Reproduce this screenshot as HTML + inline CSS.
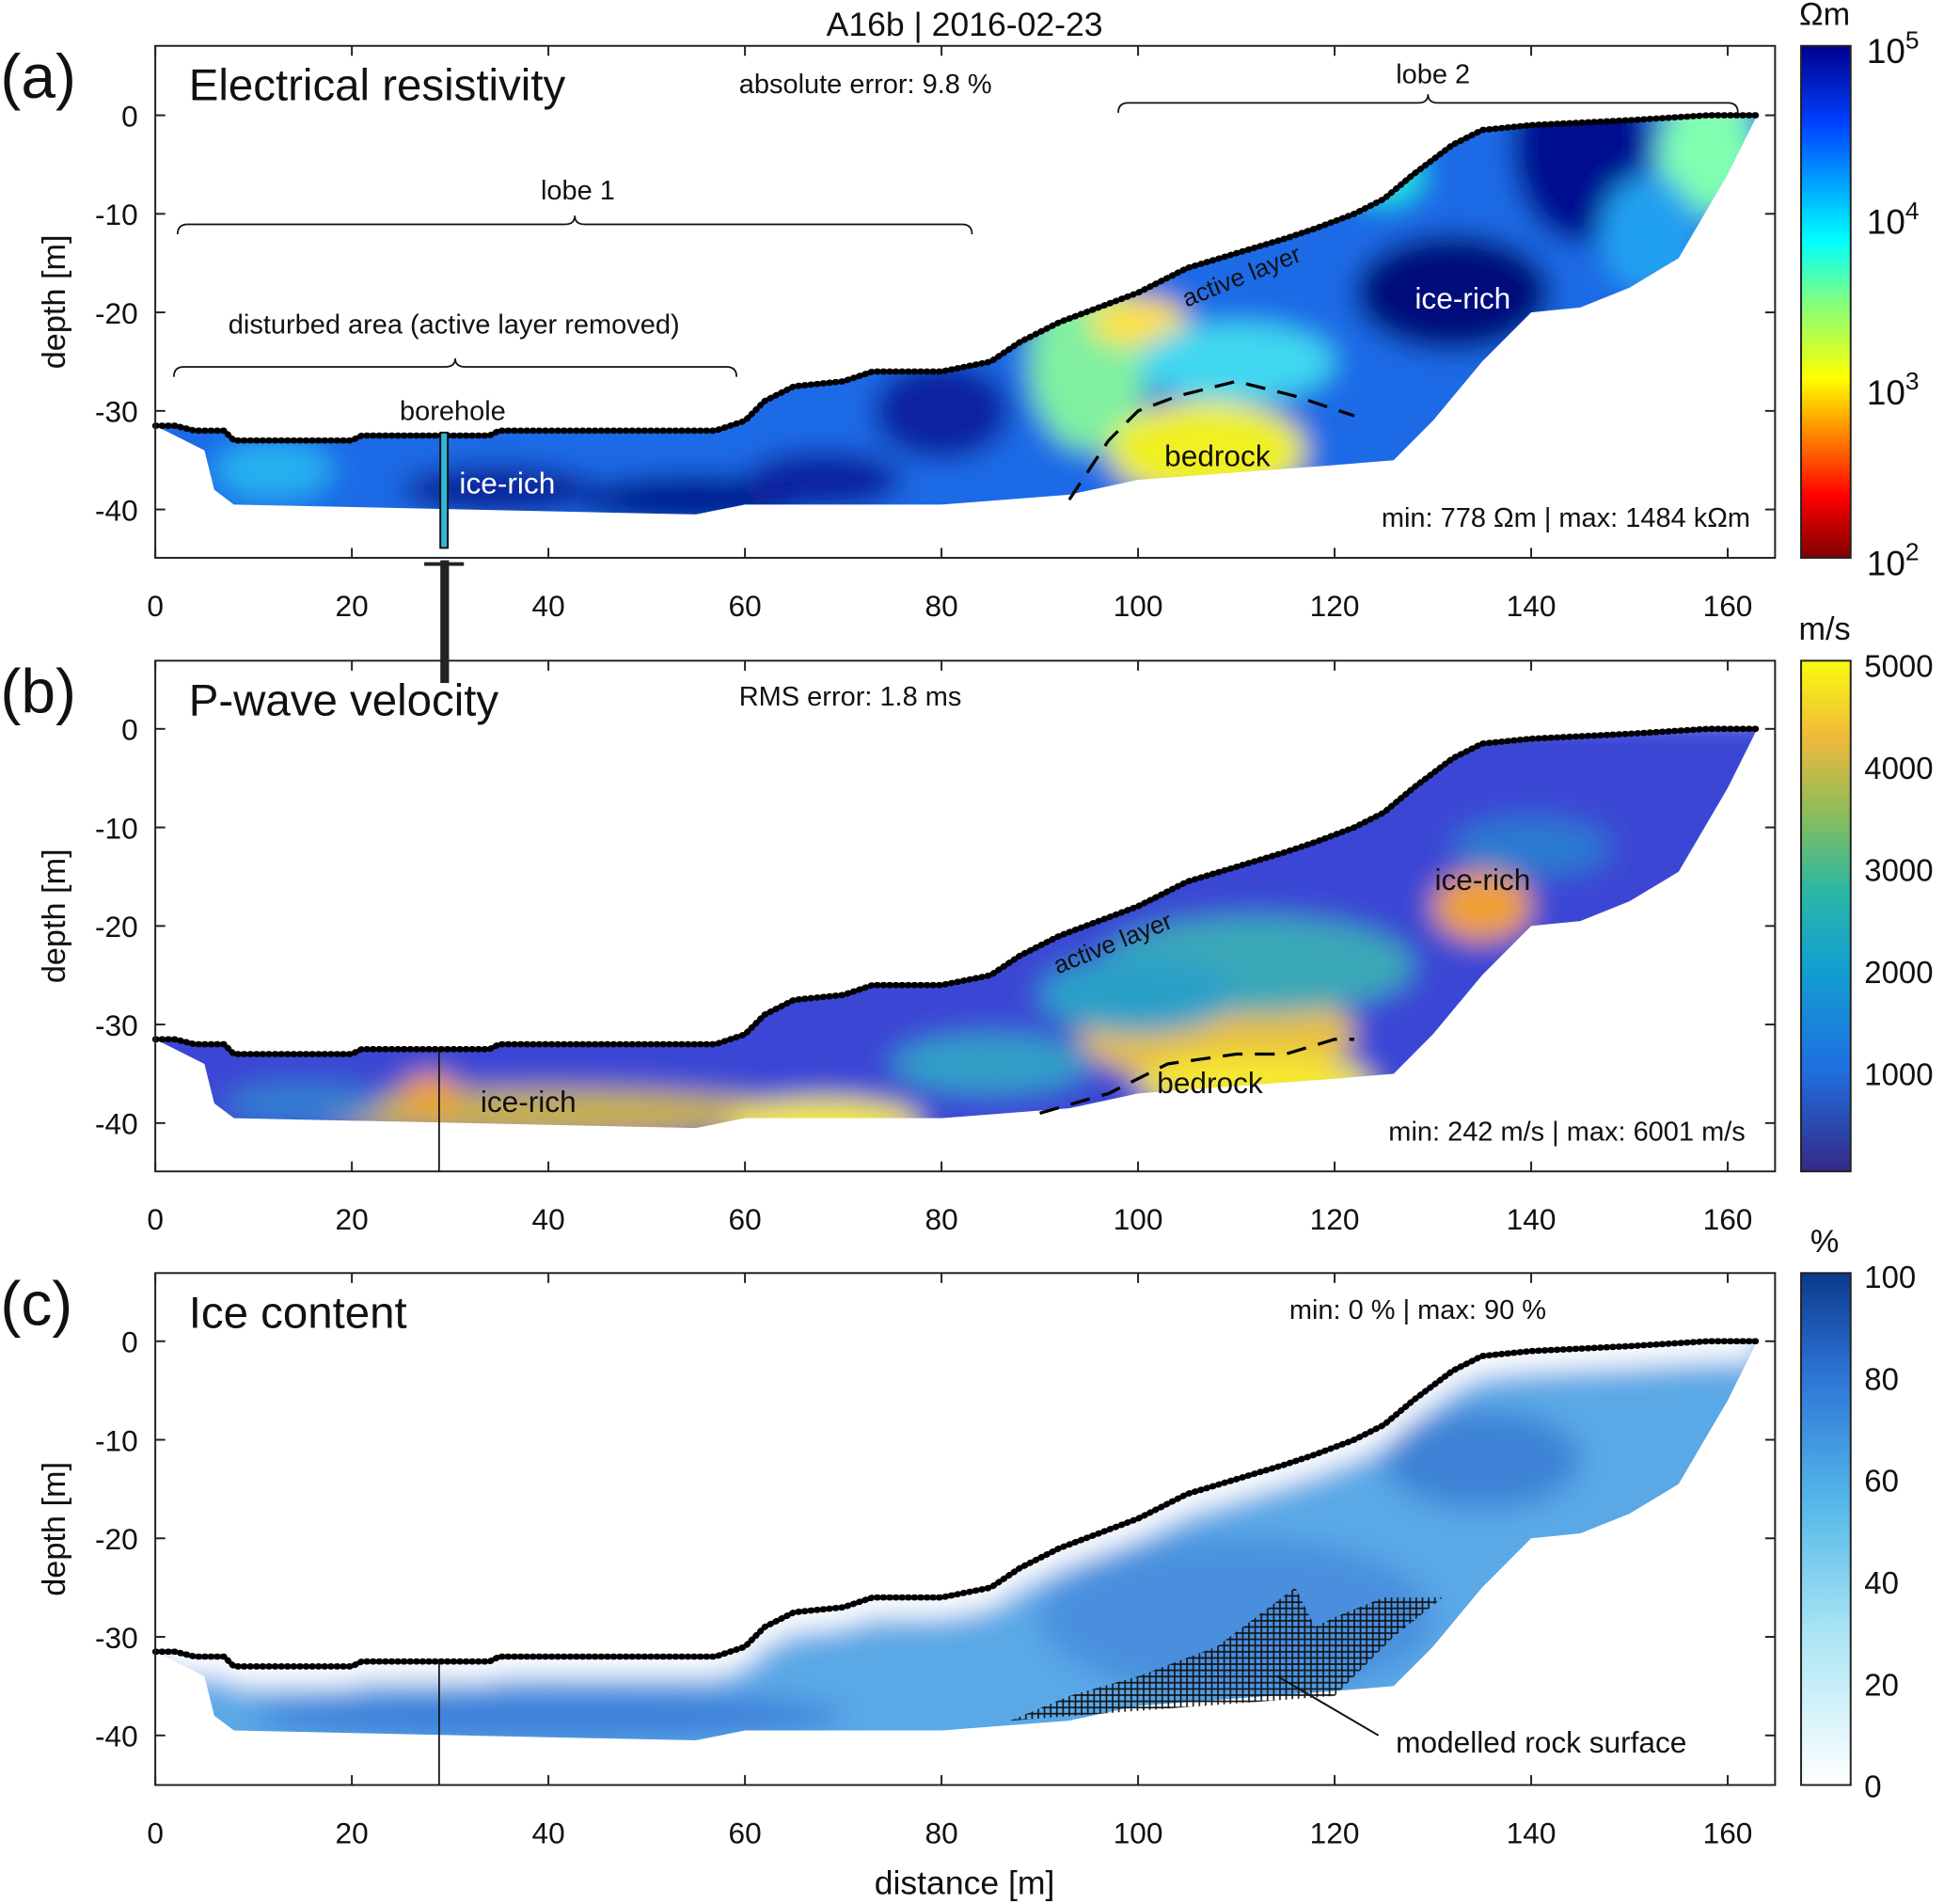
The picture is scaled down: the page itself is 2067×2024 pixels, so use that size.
<!DOCTYPE html>
<html><head><meta charset="utf-8">
<style>
html,body{margin:0;padding:0;background:#fff;}
svg{display:block;font-family:"Liberation Sans","DejaVu Sans",sans-serif;}
text{fill:#111;}
</style></head>
<body>
<svg id="fig" width="2067" height="2024" viewBox="0 0 1568 1536" xmlns="http://www.w3.org/2000/svg">
<defs>
<linearGradient id="jet" x1="0" y1="1" x2="0" y2="0">
<stop offset="0" stop-color="#800000"/><stop offset="0.12" stop-color="#ff0000"/><stop offset="0.35" stop-color="#ffff00"/><stop offset="0.5" stop-color="#80ff80"/><stop offset="0.62" stop-color="#00ffff"/><stop offset="0.85" stop-color="#0040ff"/><stop offset="1" stop-color="#00008f"/>
</linearGradient>
<linearGradient id="parula" x1="0" y1="1" x2="0" y2="0">
<stop offset="0" stop-color="#352a87"/><stop offset="0.2" stop-color="#1f6fe0"/><stop offset="0.4" stop-color="#13a0d0"/><stop offset="0.55" stop-color="#2cb7a5"/><stop offset="0.7" stop-color="#8bbd5a"/><stop offset="0.85" stop-color="#f0b93c"/><stop offset="1" stop-color="#f9fb0e"/>
</linearGradient>
<linearGradient id="blues" x1="0" y1="1" x2="0" y2="0">
<stop offset="0" stop-color="#ffffff"/><stop offset="0.3" stop-color="#a9e4f5"/><stop offset="0.55" stop-color="#55b8e8"/><stop offset="0.8" stop-color="#2d74d6"/><stop offset="1" stop-color="#0b3a8c"/>
</linearGradient>
<filter id="blur" x="-50%" y="-50%" width="200%" height="200%"><feGaussianBlur stdDeviation="11"/></filter>
<pattern id="hatch" width="5" height="5" patternUnits="userSpaceOnUse"><path d="M0 2.5H5M2.5 0V5" stroke="#111" stroke-width="1.2"/></pattern>
</defs>
<g id="root"></g>
</svg>
<script>
// ---- data ----
const surfaceDist = [0,2,4,7,8,20,21,34,35,57,60,62,65,70,73,80,85,88,92,96,100,105,110,115,118,122,125,128,132,135,140,150,158,163];
const surfaceElev = [-31.5,-31.5,-32,-32,-33,-33,-32.5,-32.5,-32,-32,-31,-29,-27.5,-27,-26,-26,-25,-23,-21,-19.5,-18,-15.5,-14,-12.5,-11.5,-10,-8.5,-6,-3,-1.5,-1,-0.5,0,0];
const bottomDist = [163,160,155,150,145,140,135,130,126,120,100,93,80,60,55,8,6,5];
const bottomElev = [0,-6,-14.5,-17.5,-19.5,-20,-25,-31,-35,-35.5,-37,-38.5,-39.5,-39.5,-40.5,-39.5,-38,-34];
const xTicks = [0,20,40,60,80,100,120,140,160];
const yTicks = [0,-10,-20,-30,-40];
const bedrockA_d = [93,97,100,104,110,116,122];
const bedrockA_z = [-39,-33,-30,-28.5,-27,-28.5,-30.5];
const bedrockB_d = [90,97,103,110,115,120,122];
const bedrockB_z = [-39,-37,-34,-33,-33,-31.5,-31.5];
const rockD = [87,93,100,108,116,118,120,125,131,126,120,100];
const rockZ = [-38.5,-36,-34,-31,-25,-29,-28,-26,-26,-30,-36,-37.5];
const cbA_labels = ["10^5","10^4","10^3","10^2"];
const cbB_labels = ["5000","4000","3000","2000","1000"];
const cbC_labels = ["100","80","60","40","20","0"];

const NS="http://www.w3.org/2000/svg";
const root=document.getElementById('root');
function el(tag,attrs,parent){const e=document.createElementNS(NS,tag);for(const k in attrs)e.setAttribute(k,attrs[k]);(parent||root).appendChild(e);return e;}
const X0=125,XS=7.93,ZS=7.95;
const X=d=>X0+d*XS;
function txt(s,x,y,size,anchor,parent,name){const t=el('text',{x:x,y:y,'font-size':size,'text-anchor':anchor||'start'},parent);t.textContent=s;return t;}

const panels=[
 {id:'a',top:37,bot:450,y0:93,title:'Electrical resistivity',grad:'jet'},
 {id:'b',top:533,bot:945,y0:588,title:'P-wave velocity',grad:'parula'},
 {id:'c',top:1027,bot:1440,y0:1082,title:'Ice content',grad:'blues'}
];

panels.forEach((p,i)=>{
 const Y=z=>p.y0-z*ZS;
 const g=el('g',{});
 
 
 let pts=surfaceDist.map((d,k)=>X(d)+','+Y(surfaceElev[k]));
 pts=pts.concat(bottomDist.map((d,k)=>X(d)+','+Y(bottomElev[k])));
 const cp=el('clipPath',{id:'clip'+p.id},g);
 el('polygon',{points:pts.join(' ')},cp);
 const fill=el('g',{'clip-path':'url(#clip'+p.id+')'},g);
 
 
 const blobs=el('g',{filter:'url(#blur)'},fill);
 const E=(d,z,rx,rz,c)=>el('ellipse',{cx:X(d),cy:Y(z),rx:rx*XS,ry:rz*ZS,fill:c},blobs);
 if(p.id==='a'){
  el('rect',{x:0,y:p.y0-10,width:1500,height:400,fill:'#1a6ae6'},blobs);
  E(12,-36,6,3,'#28b0f0');E(35,-38,10,2.5,'#08209a');E(55,-39,12,2.5,'#061a90');E(68,-37,8,3,'#0a20a0');E(80,-30,7,5,'#0820a0');
  E(95,-25,6,9,'#80f0a0');E(107,-34,10,5,'#f0f020');E(100,-21,5,2.5,'#ffe040');E(110,-25,10,4,'#40d8f0');
  E(132,-18,10,6,'#000a7a');E(145,-3,7,10,'#00108f');E(158,-4,5,6,'#80ffb0');E(125,-6,4,3,'#20e8e0');E(152,-12,5,6,'#20a0f0');
 } else if(p.id==='b'){
  el('rect',{x:0,y:p.y0-10,width:1500,height:400,fill:'#3a46d4'},blobs);
  E(40,-39,25,2.5,'#c8b048');E(68,-40,10,2.5,'#f5e838');E(28,-37,3,2,'#f0a030');
  E(108,-31,14,5,'#e8c040');E(112,-36,12,3,'#f5e830');E(112,-24,16,5,'#3aa8b8');E(135,-18,5,3.5,'#f0a030');
  E(100,-27,10,4,'#2aa0c8');E(140,-12,8,3,'#2a7ad0');E(85,-34,10,3,'#30a0c8');E(15,-38,8,2,'#3080d0');
 } else {
  el('rect',{x:0,y:p.y0-10,width:1500,height:400,fill:'#5aa8e6'},blobs);
  E(40,-38,30,2.5,'#3d80da');E(110,-28,20,8,'#4a8fde');E(135,-12,10,5,'#3c82d6');
  const wp=surfaceDist.map((d,k)=>X(d)+','+(Y(surfaceElev[k])-20)).concat(surfaceDist.slice().reverse().map((d,k)=>X(d)+','+(Y(surfaceElev[surfaceDist.length-1-k])+16)));
  el('polygon',{points:wp.join(' '),fill:'#ffffff'},blobs);
 }
 if(p.id==='a'||p.id==='b'){
  const bd=p.id==='a'?bedrockA_d:bedrockB_d,bz=p.id==='a'?bedrockA_z:bedrockB_z;
  const l=el('polyline',{points:bd.map((d,k)=>X(d)+','+Y(bz[k])).join(' '),fill:'none',stroke:'#000','stroke-width':2.5,'stroke-dasharray':'16 10'},g);
  
 }
 if(p.id==='c'){
  const r=el('polygon',{points:rockD.map((d,k)=>X(d)+','+Y(rockZ[k])).join(' '),fill:'url(#hatch)'},g);
  
 }
 const sl=el('polyline',{points:surfaceDist.map((d,k)=>X(d)+','+Y(surfaceElev[k])).join(' '),fill:'none',stroke:'#000','stroke-width':5,'stroke-dasharray':'1 4','stroke-linecap':'round'},g);
 
 el('polyline',{points:surfaceDist.map((d,k)=>X(d)+','+Y(surfaceElev[k])).join(' '),fill:'none',stroke:'#000','stroke-width':2.5},g);
 const box=el('rect',{x:X0,y:p.top,width:1432-X0,height:p.bot-p.top,fill:'none',stroke:'#222','stroke-width':1.5},g);
 
 xTicks.forEach(t=>{
  el('line',{x1:X(t),x2:X(t),y1:p.bot,y2:p.bot-8,stroke:'#222','stroke-width':1.5},g);
  el('line',{x1:X(t),x2:X(t),y1:p.top,y2:p.top+8,stroke:'#222','stroke-width':1.5},g);
  txt(String(t),X(t),p.bot+47,24,'middle',g,'x-tick-label');
 });
 yTicks.forEach(t=>{
  el('line',{x1:X0,x2:X0+8,y1:Y(t),y2:Y(t),stroke:'#222','stroke-width':1.5},g);
  el('line',{x1:1432,x2:1424,y1:Y(t),y2:Y(t),stroke:'#222','stroke-width':1.5},g);
  txt(String(t),X0-14,Y(t)+9,24,'end',g,'y-tick-label');
 });
 const yl=txt('depth [m]',0,0,26,'middle',g,'y-axis-title');
 yl.setAttribute('transform','translate(52,'+((p.top+p.bot)/2)+') rotate(-90)');
 txt('('+p.id+')',0,p.top+42,50,'start',g,'panel-letter');
 txt(p.title,152,p.top+44,36,'start',g,'panel-title');
 const cb=el('rect',{x:1453,y:p.top,width:40,height:p.bot-p.top,fill:'url(#'+p.grad+')',stroke:'#222','stroke-width':1.5},g);
 
});

const pa=panels[0],pb=panels[1],pc=panels[2];
txt('Ωm',1472,20,26,'middle',null,'colorbar-unit');
cbA_labels.forEach((s,k)=>{const y=pa.top+k*(pa.bot-pa.top)/3;const t=txt('',1506,y+14,28,'start',null,'colorbar-tick');
 const [b,e]=s.split('^');const t1=document.createElementNS(NS,'tspan');t1.textContent=b;t.appendChild(t1);const t2=document.createElementNS(NS,'tspan');t2.setAttribute('dy','-12');t2.setAttribute('font-size','20');t2.textContent=e;t.appendChild(t2);});
txt('m/s',1472,516,26,'middle',null,'colorbar-unit');
cbB_labels.forEach((s,k)=>{const y=537+k*82.3;txt(s,1504,y+9,25,'start',null,'colorbar-tick');});
txt('%',1472,1010,26,'middle',null,'colorbar-unit');
cbC_labels.forEach((s,k)=>{const y=pc.top+3+k*82.2;txt(s,1504,y+9,25,'start',null,'colorbar-tick');});

txt('A16b | 2016-02-23',778,29,27,'middle',null,'figure-title');
txt('absolute error: 9.8 %',596,75,22,'start',null,'error-label');
txt('RMS error: 1.8 ms',596,569,22,'start',null,'error-label');
txt('min: 0 % | max: 90 %',1040,1064,22,'start',null,'range-label');
txt('min: 778 Ωm | max: 1484 kΩm',1412,425,22,'end',null,'range-label');
txt('min: 242  m/s | max: 6001 m/s',1408,920,22,'end',null,'range-label');
function brace(x1,x2,y,name){const m=(x1+x2)/2;const p=el('path',{d:`M${x1} ${y+8} Q${x1} ${y} ${x1+8} ${y} L${m-8} ${y} Q${m} ${y} ${m} ${y-7} Q${m} ${y} ${m+8} ${y} L${x2-8} ${y} Q${x2} ${y} ${x2} ${y+8}`,fill:'none',stroke:'#111','stroke-width':1.3});}
brace(902,1402,83,'lobe-2-brace');txt('lobe 2',1156,67,22,'middle',null,'lobe-label');
brace(143,784,181,'lobe-1-brace');txt('lobe 1',466,161,22,'middle',null,'lobe-label');
brace(140,594,296,'disturbed-brace');txt('disturbed area (active layer removed)',366,269,22,'middle',null,'disturbed-label');
txt('borehole',365,339,22,'middle',null,'borehole-label');
const wl=(s,x,y,sz,c,n,rot)=>{const t=txt(s,x,y,sz,'middle',null,n);t.setAttribute('style','fill:'+c);if(rot)t.setAttribute('transform',`rotate(${rot} ${x} ${y})`);};
wl('ice-rich',409,398,24,'#fff','ice-rich-label');
wl('ice-rich',1180,249,24,'#fff','ice-rich-label');
wl('bedrock',982,376,24,'#111','bedrock-label');
wl('active layer',1004,229,20,'#111','active-layer-label',-22);
wl('ice-rich',426,897,24,'#111','ice-rich-label');
wl('ice-rich',1196,718,24,'#111','ice-rich-label');
wl('bedrock',976,882,24,'#111','bedrock-label');
wl('active layer',900,767,20,'#111','active-layer-label',-22);
txt('modelled rock surface',1126,1414,24,'start',null,'annotation-label');
el('line',{x1:1112,y1:1400,x2:1030,y2:1352,stroke:'#111','stroke-width':1.5});
txt('distance [m]',778,1528,27,'middle',null,'x-axis-title');
const bh=el('rect',{x:355,y:349,width:6,height:93,fill:'#30b8d8',stroke:'#111','stroke-width':1.5});

el('rect',{x:355,y:452,width:7,height:99,fill:'#222'});
el('line',{x1:342,x2:374,y1:455,y2:455,stroke:'#222','stroke-width':3});
el('line',{x1:354,x2:354,y1:848,y2:945,stroke:'#111','stroke-width':1.3});
el('line',{x1:354,x2:354,y1:1340,y2:1440,stroke:'#111','stroke-width':1.3});
</script>
</body></html>
